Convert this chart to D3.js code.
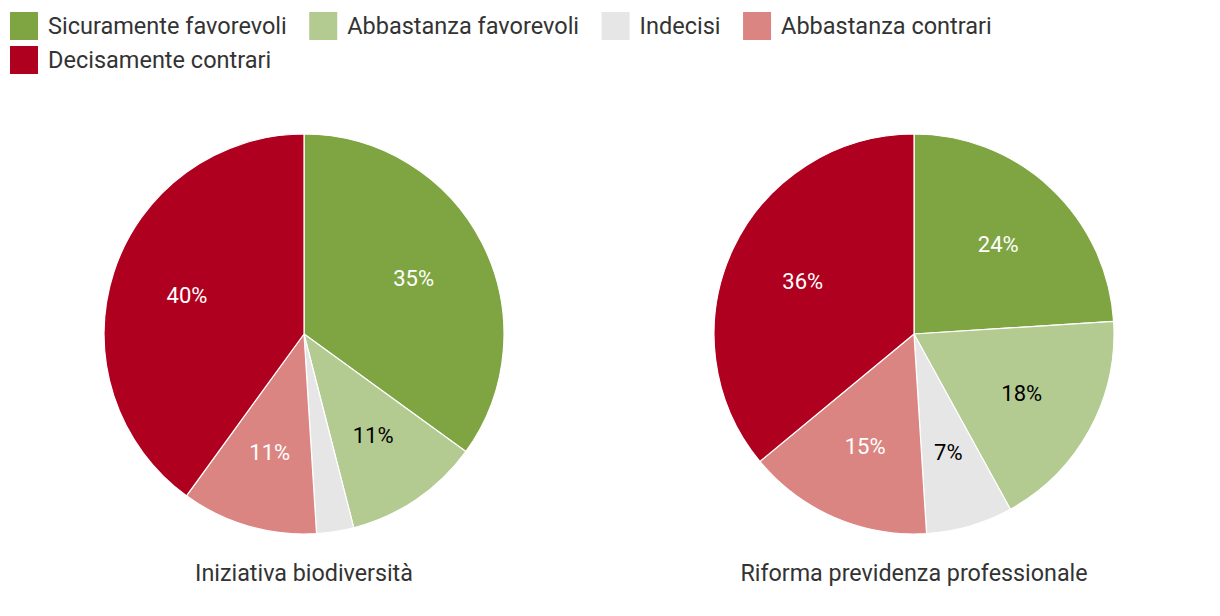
<!DOCTYPE html>
<html><head><meta charset="utf-8">
<script src="https://cdn.jsdelivr.net/npm/d3@7"></script>
<style>
html,body{margin:0;padding:0;background:#fff;}
svg{display:block;font-family:Roboto, "Noto Sans", sans-serif;}
</style></head>
<body>
<svg id="chart" width="1220" height="616"></svg>
<script>
const categories = ["Sicuramente favorevoli","Abbastanza favorevoli","Indecisi","Abbastanza contrari","Decisamente contrari"];
const colors = ["#7ea542","#b3cb90","#e6e6e6","#db8582","#b0001f"];
const labelColors = ["#fff","#000","#000","#fff","#fff"];
const pieTitles = ["Iniziativa biodiversità","Riforma previdenza professionale"];
const valuesBiodiversita = [35, 11, 3, 11, 40];
const valuesPrevidenza = [24, 18, 7, 15, 36];
const showLabel = [[true,true,false,true,true],[true,true,true,true,true]];

const svg = d3.select("#chart");
const W = 1220;

// Legend (flow layout)
const legend = svg.append("g");
let lx = 10, ly = 12;
const sq = 28, rowH = 34, gapAfter = 22.5, textGap = 10, legendFont = 23.5;
categories.forEach((c,i)=>{
  const g = legend.append("g");
  const t = g.append("text").attr("font-size",legendFont).attr("fill","#333").text(c);
  const tw = t.node().getComputedTextLength();
  if (lx + sq + textGap + tw > W - 10) { lx = 10; ly += rowH; }
  g.append("rect").attr("x",lx).attr("y",ly).attr("width",sq).attr("height",sq).attr("fill",colors[i]);
  t.attr("x",lx+sq+textGap).attr("y",ly+sq/2).attr("dominant-baseline","central");
  lx += sq + textGap + tw + gapAfter;
});

const R = 200;
const centers = [[304,334],[914,334]];
const datasets = [valuesBiodiversita, valuesPrevidenza];
const pie = d3.pie().sort(null).value(d=>d);
const arc = d3.arc().innerRadius(0).outerRadius(R);
const labelArc = d3.arc().innerRadius(R*0.615).outerRadius(R*0.615);

datasets.forEach((vals,k)=>{
  const g = svg.append("g").attr("transform",`translate(${centers[k][0]},${centers[k][1]})`);
  const arcs = pie(vals);
  g.selectAll("path").data(arcs).join("path")
    .attr("d",arc).attr("fill",(d,i)=>colors[i])
    .attr("stroke","#fff").attr("stroke-width",1.2).attr("stroke-linejoin","round");
  g.selectAll("text.lbl").data(arcs).join("text")
    .attr("class","lbl")
    .filter((d,i)=>showLabel[k][i])
    .attr("transform",d=>`translate(${labelArc.centroid(d)})`)
    .attr("text-anchor","middle").attr("dominant-baseline","central")
    .attr("font-size",22).attr("fill",(d)=>labelColors[d.index])
    .text(d=>d.data+"%");
  g.append("text").attr("x",0).attr("y",R+39).attr("text-anchor","middle")
    .attr("dominant-baseline","central").attr("font-size",23.3).attr("fill","#333")
    .text(pieTitles[k]);
});
</script>
</body></html>
